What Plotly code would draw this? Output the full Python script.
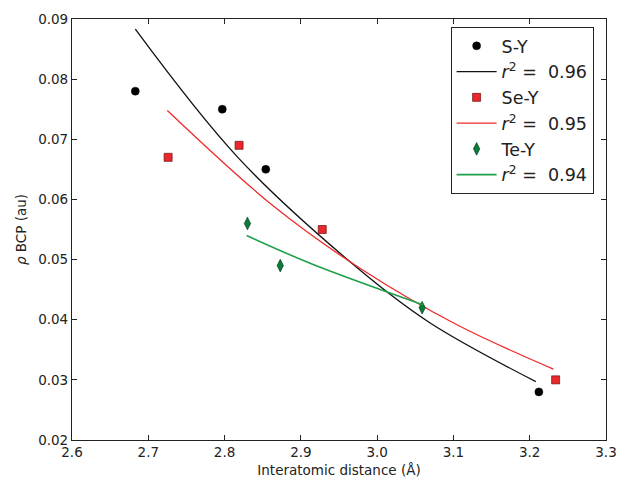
import plotly.graph_objects as go

# Data points
s_x = [2.683, 2.797, 2.854, 3.212]
s_y = [0.078, 0.075, 0.065, 0.028]
se_x = [2.726, 2.819, 2.928, 3.234]
se_y = [0.067, 0.069, 0.055, 0.030]
te_x = [2.830, 2.873, 3.059]
te_y = [0.056, 0.049, 0.042]

# Fit curves
s_fit_x = [2.683, 2.818, 2.977, 3.069, 3.208]
s_fit_y = [0.0883, 0.0669, 0.0483, 0.0395, 0.0297]
se_fit_x = [2.725, 2.864, 2.977, 3.104, 3.231]
se_fit_y = [0.0748, 0.0589, 0.0486, 0.0392, 0.0318]
te_fit_x = [2.829, 2.912, 3.060]
te_fit_y = [0.0540, 0.0494, 0.0425]

labels = ["S-Y", "Se-Y", "Te-Y"]
r2 = ["0.96", "0.95", "0.94"]

x_ticks = [2.6, 2.7, 2.8, 2.9, 3.0, 3.1, 3.2, 3.3]
y_ticks = [0.02, 0.03, 0.04, 0.05, 0.06, 0.07, 0.08, 0.09]

def r2_label(v):
    return "<i>r</i><sup>2</sup> =  " + v

fig = go.Figure()
fig.add_trace(go.Scatter(x=s_x, y=s_y, mode="markers", name=labels[0],
                         marker=dict(symbol="circle", size=8, color="black",
                                     line=dict(color="black", width=0.5))))
fig.add_trace(go.Scatter(x=s_fit_x, y=s_fit_y, mode="lines", name=r2_label(r2[0]),
                         line=dict(color="#111111", width=1.3, shape="spline", smoothing=1)))
fig.add_trace(go.Scatter(x=se_x, y=se_y, mode="markers", name=labels[1],
                         marker=dict(symbol="square", size=8, color="#e8282a",
                                     line=dict(color="#6a1010", width=0.7))))
fig.add_trace(go.Scatter(x=se_fit_x, y=se_fit_y, mode="lines", name=r2_label(r2[1]),
                         line=dict(color="#f02a2a", width=1.3, shape="spline", smoothing=1)))
fig.add_trace(go.Scatter(x=te_x, y=te_y, mode="markers", name=labels[2],
                         marker=dict(symbol="diamond-tall", size=9, color="#0b7a3a",
                                     line=dict(color="#064020", width=0.7))))
fig.add_trace(go.Scatter(x=te_fit_x, y=te_fit_y, mode="lines", name=r2_label(r2[2]),
                         line=dict(color="#1ea04a", width=1.6, shape="spline", smoothing=1)))

axis_common = dict(
    showgrid=False, zeroline=False, showline=True, linecolor="#222222", linewidth=1.2,
    mirror="ticks", ticks="inside", ticklen=5, tickcolor="#222222", automargin=False,
    tickfont=dict(family="DejaVu Sans", size=13.5, color="#222222"),
)

fig.update_layout(
    width=617, height=483,
    margin=dict(l=72, r=11, t=19, b=43),
    paper_bgcolor="white", plot_bgcolor="white",
    font=dict(family="DejaVu Sans", color="#222222"),
    xaxis=dict(range=[2.6, 3.3], tickvals=x_ticks,
               ticktext=[f"{v:.1f}" for v in x_ticks],
               title=dict(text="Interatomic distance (Å)", standoff=6,
                          font=dict(size=13.5, family="DejaVu Sans")),
               **axis_common),
    yaxis=dict(range=[0.02, 0.09], tickvals=y_ticks,
               ticktext=[f"{v:.2f}" for v in y_ticks],
               title=dict(text="<i>ρ</i> BCP (au)", standoff=8,
                          font=dict(size=13.5, family="DejaVu Sans")),
               **axis_common),
    showlegend=True,
    legend=dict(x=0.709, y=0.981, xanchor="left", yanchor="top",
                bgcolor="white", bordercolor="#222222", borderwidth=1,
                font=dict(family="DejaVu Sans", size=17.5, color="#222222"),
                tracegroupgap=0, itemwidth=40),
)

fig.write_html("out.html",
               config={"displayModeBar": False},
               post_script="document.body.style.margin='0';document.body.style.overflow='hidden';")
